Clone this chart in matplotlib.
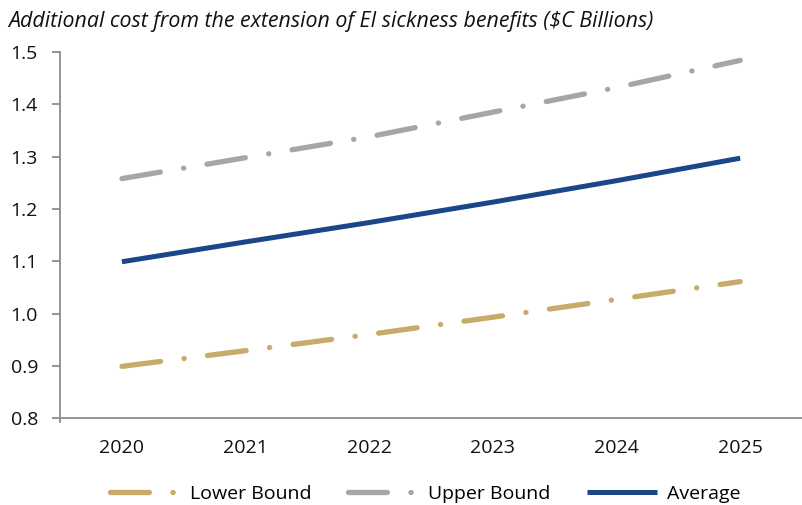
import matplotlib.pyplot as plt
import numpy as np

# Data
years = ['2020', '2021', '2022', '2023', '2024', '2025']
lower_bound = [0.899, 0.929, 0.960, 0.993, 1.027, 1.061]
upper_bound = [1.258, 1.298, 1.338, 1.385, 1.432, 1.484]
average = [1.099, 1.137, 1.174, 1.213, 1.254, 1.297]

title = 'Additional cost from the extension of EI sickness benefits ($C Billions)'

plt.rcParams['font.family'] = ['Open Sans', 'DejaVu Sans']
plt.rcParams['lines.scale_dashes'] = False

fig = plt.figure(figsize=(8.02, 5.05), dpi=100)
ax = fig.add_axes([0.075, 0.172, 0.925, 0.725])

x = np.arange(len(years))
dash_dot = (0, (28, 17, 0.1, 17))

ax.plot(x, lower_bound, color='#C8AA6A', lw=3.8, linestyle=dash_dot,
        dash_capstyle='round', label='Lower Bound')
ax.plot(x, upper_bound, color='#A6A6A6', lw=3.8, linestyle=dash_dot,
        dash_capstyle='round', label='Upper Bound')
ax.plot(x, average, color='#1B4687', lw=3.6, solid_capstyle='butt',
        label='Average')

ax.set_xlim(-0.5, len(years) - 0.5)
ax.set_ylim(0.8, 1.5)
ax.set_yticks(np.arange(0.8, 1.51, 0.1))
ax.set_yticklabels([f'{v:.1f}' for v in np.arange(0.8, 1.51, 0.1)])
ax.set_xticks(x)
ax.set_xticklabels(years)

for side in ['top', 'right']:
    ax.spines[side].set_visible(False)
for side in ['left', 'bottom']:
    ax.spines[side].set_color('#8C8C8C')
    ax.spines[side].set_linewidth(1.3)

ax.tick_params(axis='y', direction='out', length=6, width=1.3, color='#8C8C8C',
               labelsize=14, pad=10, labelcolor='#111111')
ax.tick_params(axis='x', length=0, labelsize=14, pad=15, labelcolor='#111111')
# small stub below the origin, as in the reference
ax.plot([-0.5, -0.5], [0.8, 0.792], color='#8C8C8C', lw=1.3, clip_on=False)

fig.text(0.010, 0.958, title, fontsize=15.4, style='italic', color='#111111',
         va='center', ha='left')

fig.legend(loc='lower center', ncol=3, frameon=False, fontsize=14,
           bbox_to_anchor=(0.53, -0.03), handlelength=3.6, handletextpad=0.5,
           columnspacing=1.9)

fig.savefig('out.png', dpi=100)
